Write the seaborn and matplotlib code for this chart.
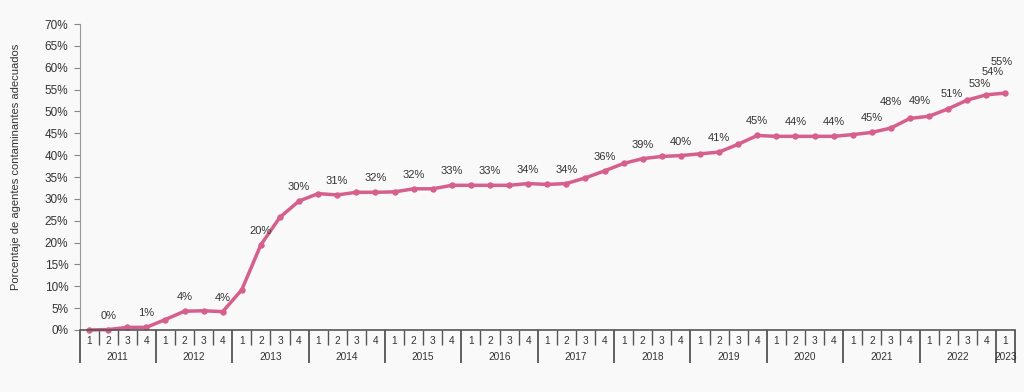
import matplotlib
matplotlib.use("Agg")
import matplotlib.pyplot as plt
import matplotlib.transforms as mtransforms
import numpy as np
import pandas as pd
import seaborn as sns

# Quarterly series, 2011 Q1 .. 2023 Q1
years = ["2011", "2012", "2013", "2014", "2015", "2016", "2017",
         "2018", "2019", "2020", "2021", "2022", "2023"]
quarters_per_year = [4, 4, 4, 4, 4, 4, 4, 4, 4, 4, 4, 4, 1]
values = [0.0, 0.1, 0.6, 0.6,
          2.4, 4.3, 4.4, 4.2,
          9.2, 19.5, 25.8, 29.5,
          31.2, 30.9, 31.5, 31.5,
          31.6, 32.3, 32.3, 33.1,
          33.1, 33.1, 33.1, 33.5,
          33.3, 33.5, 34.8, 36.4,
          38.1, 39.2, 39.7, 39.9,
          40.3, 40.7, 42.5, 44.5,
          44.3, 44.3, 44.3, 44.3,
          44.7, 45.2, 46.2, 48.4,
          48.9, 50.6, 52.6, 53.8,
          54.2]

# data labels: point index they belong to and text shown
label_idx = [1, 3, 5, 7, 9, 11, 13, 15, 17, 19, 21, 23, 25, 27, 29, 31,
             33, 35, 37, 39, 41, 43, 44, 45, 46, 47, 48]
label_txt = ["0%", "1%", "4%", "4%", "20%", "30%", "31%", "32%", "32%",
             "33%", "33%", "34%", "34%", "36%", "39%", "40%", "41%",
             "45%", "44%", "44%", "45%", "48%", "49%", "51%", "53%",
             "54%", "55%"]
# label offsets in pixels (dx, dy up); crowded tail needs hand placement
label_off = [(0, 14)] * 21 + [(-19, 16), (-9, 15), (4, 15), (12, 16), (6, 23), (-4, 31)]

LINE = "#d65f8c"
BG = "#f9f9f9"
TXT = "#333333"

quarter_labels = []
year_of = []
for y, n in zip(years, quarters_per_year):
    for q in range(1, n + 1):
        quarter_labels.append(str(q))
        year_of.append(y)

df = pd.DataFrame({"idx": np.arange(len(values)), "pct": values,
                   "quarter": quarter_labels, "year": year_of})

sns.set_theme(style="white")
plt.rcParams["font.family"] = ["Liberation Sans", "DejaVu Sans"]

fig = plt.figure(figsize=(10.24, 3.92), dpi=100, facecolor=BG)
ax = fig.add_axes([79.5 / 1024, 62 / 392, (1015 - 79.5) / 1024, (330 - 24) / 392])
ax.set_facecolor(BG)

sns.lineplot(data=df, x="idx", y="pct", ax=ax, color=LINE, linewidth=2.5,
             marker="o", markersize=4.6, markeredgewidth=0, clip_on=False)

ax.set_xlim(-0.5, len(values) - 0.5)
ax.set_ylim(0, 70)
ax.set_yticks(np.arange(0, 71, 5))
ax.set_yticklabels([f"{v}%" for v in range(0, 71, 5)], fontsize=8.5, color=TXT)
ax.tick_params(axis="y", length=4, width=0.8, color="#888888", pad=4, left=True)
ax.set_ylabel("Porcentaje de agentes contaminantes adecuados", fontsize=8,
              color=TXT, labelpad=17)
ax.yaxis.label.set_y(0.533)

for s in ["top", "right"]:
    ax.spines[s].set_visible(False)
ax.spines["left"].set_color("#999999")
ax.spines["left"].set_linewidth(0.8)
ax.spines["bottom"].set_color("#555555")
ax.spines["bottom"].set_linewidth(1.2)

# multi-level category axis: quarter separators (minor) and year separators (major)
year_bounds = np.concatenate([[0], np.cumsum(quarters_per_year)]) - 0.5
ax.set_xticks(year_bounds)
ax.set_xticks(np.arange(len(values) + 1) - 0.5, minor=True)
ax.set_xticklabels([])
ax.tick_params(axis="x", which="major", direction="out", length=23.5, width=1.3,
               color="#555555", bottom=True)
ax.tick_params(axis="x", which="minor", direction="out", length=11, width=1.0,
               color="#555555", bottom=True)
ax.set_xlabel("")

trans = mtransforms.blended_transform_factory(ax.transData, ax.transAxes)
px = 1.0 / 306  # one pixel in axes-fraction (vertical)
for i, q in enumerate(quarter_labels):
    ax.text(i, -11 * px, q, transform=trans, ha="center", va="center",
            fontsize=7.3, color=TXT)
for k, y in enumerate(years):
    mid = (year_bounds[k] + year_bounds[k + 1]) / 2
    ax.text(mid, -27 * px, y, transform=trans, ha="center", va="center",
            fontsize=7.3, color=TXT)

for i, t, (dx, dy) in zip(label_idx, label_txt, label_off):
    ax.annotate(t, (i, values[i]), xytext=(dx * 0.72, dy * 0.72),
                textcoords="offset points", ha="center", va="center",
                fontsize=8, color=TXT)

fig.savefig("out.png", dpi=100, facecolor=BG)
